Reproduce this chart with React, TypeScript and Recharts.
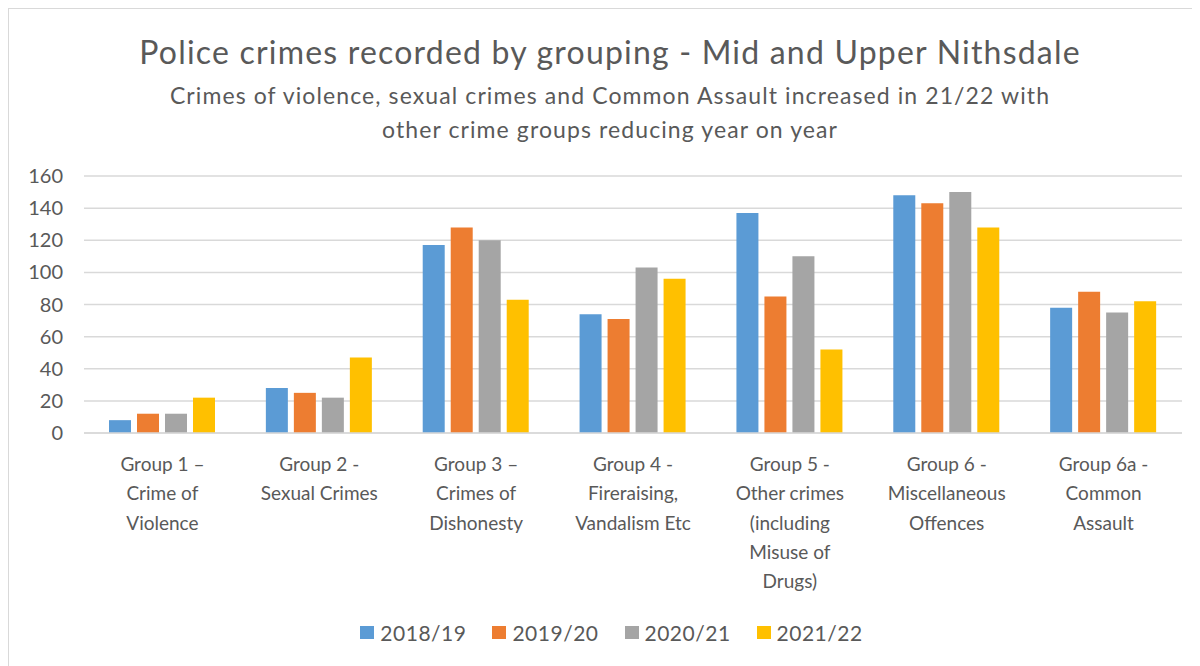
import { Bar, BarChart, CartesianGrid, Legend, XAxis, YAxis } from 'recharts'

const categories = [
    'Group 1 –\nCrime of\nViolence',
    'Group 2  -\nSexual Crimes',
    'Group 3 –\nCrimes of\nDishonesty',
    'Group 4 -\nFireraising,\nVandalism Etc',
    'Group 5 -\nOther crimes\n(including\nMisuse of\nDrugs)',
    'Group 6 -\nMiscellaneous\nOffences',
    'Group 6a -\nCommon\nAssault',
]

const seriesNames = ['2018/19', '2019/20', '2020/21', '2021/22']
const seriesColors = ['#5b9bd5', '#ed7d31', '#a5a5a5', '#ffc000']

const values1819 = [8, 28, 117, 74, 137, 148, 78]
const values1920 = [12, 25, 128, 71, 85, 143, 88]
const values2021 = [12, 22, 120, 103, 110, 150, 75]
const values2122 = [22, 47, 83, 96, 52, 128, 82]

const yTicks = [0, 20, 40, 60, 80, 100, 120, 140, 160]

const title = 'Police crimes recorded by grouping - Mid and Upper Nithsdale'
const subtitle = [
    'Crimes of violence, sexual crimes and Common Assault increased in 21/22 with',
    'other crime groups reducing year on year',
]

const seriesValues = [values1819, values1920, values2021, values2122]

const data = categories.map((name, i) => {
    const row: Record<string, string | number> = { name }
    seriesNames.forEach((s, j) => {
        row[s] = seriesValues[j][i]
    })
    return row
})

const FONT = 'Lato, "Open Sans", sans-serif'
const TEXT = '#595959'

const CategoryTick = ({ x, y, payload }: any) => {
    const lines = String(payload.value).split('\n')
    return (
        <text x={x} y={y} textAnchor="middle" fill={TEXT} fontSize={19} fontFamily={FONT}>
            {lines.map((line, i) => (
                <tspan key={i} x={x} dy={i === 0 ? 30 : 29.3}>
                    {line}
                </tspan>
            ))}
        </text>
    )
}

const LegendContent = () => (
    <div
        style={{
            display: 'flex',
            justifyContent: 'center',
            fontFamily: FONT,
            fontSize: 21,
            letterSpacing: 0.5,
            color: TEXT,
            paddingLeft: 14,
        }}
    >
        {seriesNames.map((s, i) => (
            <div
                key={s}
                style={{ display: 'flex', alignItems: 'center', marginRight: i < seriesNames.length - 1 ? 26 : 0 }}
            >
                <span
                    style={{ width: 14, height: 13, background: seriesColors[i], marginRight: 6, display: 'inline-block' }}
                />
                <span>{s}</span>
            </div>
        ))}
    </div>
)

export default function App() {
    return (
        <div
            style={{
                position: 'relative',
                width: 1191,
                height: 657,
                borderLeft: '1px solid #d9d9d9',
                borderTop: '1px solid #d9d9d9',
                background: '#fff',
            }}
        >
            <svg
                width={1191}
                height={160}
                style={{ position: 'absolute', left: 0, top: 0, pointerEvents: 'none' }}
            >
                <text
                    x={601}
                    y={55}
                    textAnchor="middle"
                    fill={TEXT}
                    fontSize={32}
                    letterSpacing={1.2}
                    fontFamily={FONT}
                >
                    {title}
                </text>
                {subtitle.map((line, i) => (
                    <text
                        key={i}
                        x={601}
                        y={95 + i * 34}
                        textAnchor="middle"
                        fill={TEXT}
                        fontSize={23}
                        letterSpacing={1.1}
                        fontFamily={FONT}
                    >
                        {line}
                    </text>
                ))}
            </svg>
            <BarChart
                width={1191}
                height={657}
                data={data}
                margin={{ top: 167, right: 18, left: 0, bottom: 33 }}
                barCategoryGap={25}
                barGap={6}
            >
                <CartesianGrid vertical={false} stroke="#d9d9d9" strokeWidth={1.5} />
                <XAxis
                    dataKey="name"
                    interval={0}
                    height={200}
                    tickLine={false}
                    axisLine={{ stroke: '#d9d9d9', strokeWidth: 1.5 }}
                    tick={<CategoryTick />}
                />
                <YAxis
                    width={75}
                    domain={[0, 160]}
                    ticks={yTicks}
                    interval={0}
                    axisLine={false}
                    tickLine={false}
                    tickMargin={15}
                    tick={{ fill: TEXT, fontSize: 20, fontFamily: FONT }}
                />
                <Legend
                    verticalAlign="middle"
                    align="center"
                    layout="horizontal"
                    content={<LegendContent />}
                    wrapperStyle={{ top: 611, left: 0, width: 1191 }}
                />
                {seriesNames.map((s, i) => (
                    <Bar key={s} dataKey={s} fill={seriesColors[i]} isAnimationActive={false} />
                ))}
            </BarChart>
        </div>
    )
}
